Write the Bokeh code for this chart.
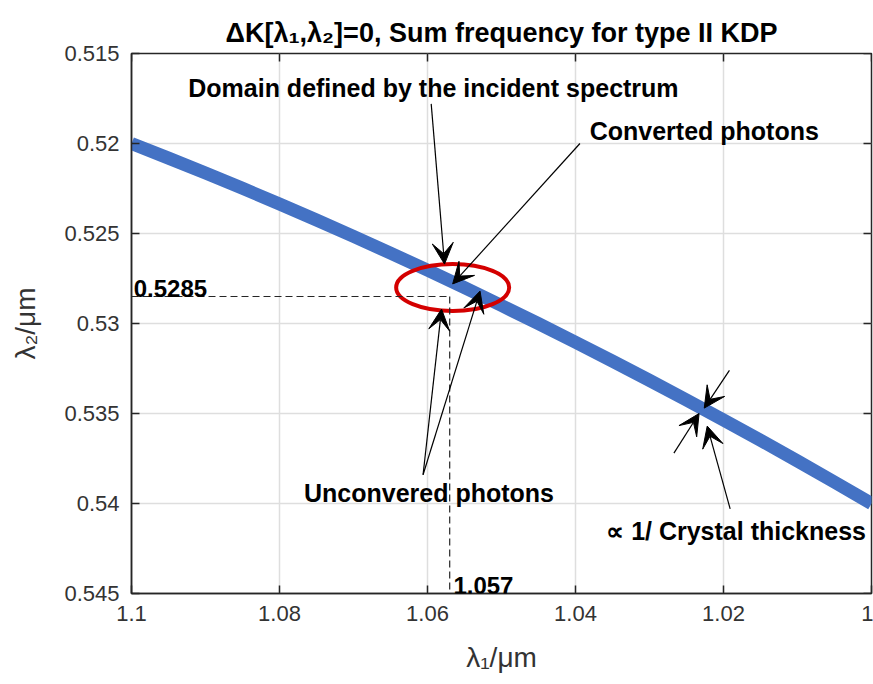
import math

from bokeh.plotting import figure
from bokeh.models import Range1d, FixedTicker, Arrow, VeeHead, Label
from bokeh.embed import file_html
from bokeh.resources import INLINE

# Phase-matching curve: lambda_1 (um) and the matching lambda_2 (um)
lambda1 = [1.100, 1.095, 1.090, 1.085, 1.080, 1.075, 1.070, 1.065, 1.060, 1.055,
           1.050, 1.045, 1.040, 1.035, 1.030, 1.025, 1.020, 1.015, 1.010, 1.005, 1.000]
lambda2 = [0.52000, 0.52081, 0.52164, 0.52249, 0.52336, 0.52425, 0.52516, 0.52609, 0.52704, 0.52801,
           0.52900, 0.53001, 0.53104, 0.53209, 0.53316, 0.53425, 0.53536, 0.53649, 0.53764, 0.53881,
           0.54000]

# Operating point
point_l1 = 1.057
point_l2 = 0.5285

# Axis ticks and labels
x_ticks = [1.1, 1.08, 1.06, 1.04, 1.02, 1.0]
x_tick_labels = ["1.1", "1.08", "1.06", "1.04", "1.02", "1"]
y_ticks = [0.515, 0.52, 0.525, 0.53, 0.535, 0.54, 0.545]
y_tick_labels = ["0.515", "0.52", "0.525", "0.53", "0.535", "0.54", "0.545"]

TITLE = "ΔK[λ₁,λ₂]=0, Sum frequency for type II KDP"

FONT = "Liberation Sans"
AXIS_COLOR = "#262626"
BAND_COLOR = "#4472C4"

x_lo, x_hi = 1.1, 1.0
y_lo, y_hi = 0.545, 0.515

p = figure(width=873, height=684, output_backend="svg", toolbar_location=None,
           x_range=Range1d(x_lo, x_hi), y_range=Range1d(y_lo, y_hi),
           min_border_left=131, min_border_right=2, min_border_top=53, min_border_bottom=91,
           background_fill_color="white", border_fill_color="white")

p.title.text = TITLE
p.title.align = "center"
p.title.vertical_align = "top"
p.title.text_font = FONT
p.title.text_font_size = "27px"
p.title.text_font_style = "bold"
p.title.text_color = "#000000"
p.title.text_line_height = 0.6
p.title.standoff = 8

p.outline_line_color = AXIS_COLOR
p.outline_line_width = 1.5

# grids
for g in (p.xgrid, p.ygrid):
    g.grid_line_color = "#DEDEDE"
    g.grid_line_width = 1.5
p.xgrid.ticker = FixedTicker(ticks=x_ticks)
p.ygrid.ticker = FixedTicker(ticks=y_ticks)

def style_axis(ax, ticks, labels):
    ax.ticker = FixedTicker(ticks=ticks)
    ax.major_label_overrides = {t: s for t, s in zip(ticks, labels)}
    ax.axis_line_color = AXIS_COLOR
    ax.axis_line_width = 1.5
    ax.major_tick_line_color = AXIS_COLOR
    ax.major_tick_line_width = 1.5
    ax.major_tick_in = 8
    ax.major_tick_out = 0
    ax.minor_tick_line_color = None
    ax.major_label_text_font = FONT
    ax.major_label_text_color = "#333333"
    ax.major_label_text_font_size = "22px"
    ax.axis_label_text_font = FONT
    ax.axis_label_text_font_size = "28px"
    ax.axis_label_text_font_style = "normal"
    ax.axis_label_text_color = "#333333"

xa = p.xaxis[0]
ya = p.yaxis[0]
style_axis(xa, x_ticks, x_tick_labels)
style_axis(ya, y_ticks, y_tick_labels)
xa.major_label_standoff = 12
ya.major_label_standoff = 12
xa.axis_label = "λ₁/μm"
ya.axis_label = "λ₂/μm"
xa.axis_label_standoff = 18
ya.axis_label_standoff = 20

# box ticks on the top and right edges (half of each dash is clipped by the frame)
p.scatter(x_ticks, [y_hi] * len(x_ticks), marker="dash", size=16, angle=math.pi / 2,
          line_color=AXIS_COLOR, line_width=1.5)
p.scatter([x_hi] * len(y_ticks), y_ticks, marker="dash", size=16,
          line_color=AXIS_COLOR, line_width=1.5)

# phase-matching band
p.line(lambda1, lambda2, line_color=BAND_COLOR, line_width=13, line_cap="butt", line_join="round")

# acceptance domain of the incident spectrum
p.ellipse(x=1.0566, y=0.528, width=113, height=47, width_units="screen", height_units="screen",
          fill_color=None, line_color="#D40000", line_width=4)

# dashed guides to the operating point
p.line([x_lo, point_l1], [point_l2, point_l2], line_color=AXIS_COLOR, line_width=1.2, line_dash="7 4")
p.line([point_l1, point_l1], [point_l2, y_lo], line_color=AXIS_COLOR, line_width=1.2, line_dash="7 4")

def arrow(x0, y0, x1, y1):
    p.add_layout(Arrow(end=VeeHead(size=21, fill_color="black", line_color="black", line_width=1),
                       x_start=x0, y_start=y0, x_end=x1, y_end=y1,
                       line_color="black", line_width=1.2))

arrow(1.0595, 0.5178, 1.0577, 0.5267)
arrow(1.0394, 0.5200, 1.0566, 0.5278)
arrow(1.0606, 0.5384, 1.0581, 0.5292)
arrow(1.0606, 0.5384, 1.0529, 0.5282)
arrow(1.0192, 0.5326, 1.0226, 0.5347)
arrow(1.0267, 0.5372, 1.0233, 0.5350)
arrow(1.0191, 0.5403, 1.0222, 0.5357)

def label(x, y, text, align="center", baseline="middle", size="25px"):
    p.add_layout(Label(x=x, y=y, text=text, text_align=align, text_baseline=baseline,
                       text_font=FONT, text_font_size=size, text_font_style="bold",
                       text_color="#000000"))

label(1.0592, 0.5169, "Domain defined by the incident spectrum")
label(1.0226, 0.5193, "Converted photons")
label(1.0598, 0.5394, "Unconvered photons")
label(1.0183, 0.5415, "∝ 1/ Crystal thickness")
label(1.0997, point_l2, "0.5285", align="left", baseline="bottom", size="24px")
label(1.0565, y_lo, "1.057", align="left", baseline="bottom", size="24px")

open("out.html", "w").write(file_html(p, INLINE))
